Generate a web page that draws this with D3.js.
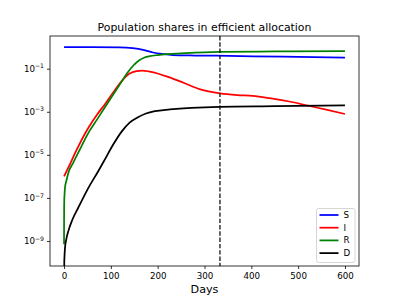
<!DOCTYPE html>
<html>
<head>
<meta charset="utf-8">
<script src="https://cdn.jsdelivr.net/npm/d3@7"></script>
<style>
  body { margin: 0; background: #fff; }
  svg { font-family: "DejaVu Sans", sans-serif; }
</style>
</head>
<body>
<svg id="chart" width="399" height="299"></svg>
<script>
// series: [day, population share]
var S = [[0, 1.0], [60, 1.0], [119, 0.99], [147, 0.90], [169, 0.75], [190, 0.565],
  [211, 0.48], [232, 0.43], [280, 0.41], [325, 0.40], [467, 0.36], [600, 0.33]];
var I = [[0, 1.0e-6], [10, 2.8e-6], [25, 1.41e-5], [52, 1.82e-4], [70, 7.1e-4], [87, 2.19e-3],
  [105, 7.9e-3], [123, 0.0269], [140, 0.060], [155, 0.0776], [167, 0.0813], [180, 0.0759],
  [200, 0.060], [222, 0.0417], [255, 0.0224], [291, 0.011], [333, 7.2e-3], [370, 6.0e-3],
  [403, 5.5e-3], [439, 4.3e-3], [481, 3.0e-3], [524, 1.86e-3], [560, 1.26e-3], [600, 7.9e-4]];
var R = [[0, 7.1e-10], [0.05, 5.0e-9], [0.2, 3.2e-8], [0.5, 8.0e-8], [1, 1.4e-7], [2, 2.95e-7],
  [5, 6.3e-7], [9, 1.41e-6], [20, 4.5e-6], [35, 2.0e-5], [52, 1.05e-4], [70, 4.2e-4],
  [87, 1.58e-3], [105, 6.3e-3], [123, 0.0251], [135, 0.063], [148, 0.141], [160, 0.24],
  [172, 0.33], [183, 0.38], [200, 0.43], [219, 0.475], [260, 0.53], [332, 0.60],
  [450, 0.63], [600, 0.66]];
var D = [[0, 0], [0.5, 1.0e-10], [1, 2.0e-10], [2, 4.7e-10], [5, 1.26e-9], [9, 2.8e-9],
  [18, 1.0e-8], [30, 3.4e-8], [52, 2.95e-7], [73, 1.74e-6], [87, 6.0e-6], [105, 3.0e-5],
  [123, 1.2e-4], [140, 3.16e-4], [158, 5.6e-4], [175, 8.3e-4], [194, 1.07e-3],
  [226, 1.29e-3], [332, 1.7e-3], [450, 1.82e-3], [600, 2.0e-3]];

var seriesNames = ["S", "I", "R", "D"];
var seriesData = [S, I, R, D];
var seriesColors = ["#0000ff", "#ff0000", "#008000", "#000000"];

var xDomain = [-30, 630];
var yDomain = [6.9e-11, 3.3];
var xTicks = [0, 100, 200, 300, 400, 500, 600];
var yTicks = [1e-9, 1e-7, 1e-5, 1e-3, 1e-1];
var yTickExp = ["\u22129", "\u22127", "\u22125", "\u22123", "\u22121"];
var cutoffDay = 333;

function main() {
  // plot box (window.top is reserved, so no bare "top")
  var x0 = 50, x1 = 359, y0 = 36, y1 = 266;

  var svg = d3.select("#chart");

  var x = d3.scaleLinear().domain(xDomain).range([x0, x1]);
  var y = d3.scaleLog().domain(yDomain).range([y1, y0]);

  svg.append("clipPath").attr("id", "plot-clip")
    .append("rect")
    .attr("x", x0).attr("y", y0)
    .attr("width", x1 - x0).attr("height", y1 - y0);

  var plot = svg.append("g").attr("clip-path", "url(#plot-clip)");

  // zero values get pushed below the axis so the line runs off the bottom
  var line = d3.line()
    .x(function (d) { return x(d[0]); })
    .y(function (d) { return y(Math.max(d[1], 1e-12)); })
    .curve(d3.curveMonotoneX);

  seriesData.forEach(function (data, i) {
    plot.append("path")
      .datum(data)
      .attr("fill", "none")
      .attr("stroke", seriesColors[i])
      .attr("stroke-width", 1.75)
      .attr("stroke-linejoin", "round")
      .attr("d", line);
  });

  // dashed vertical marker
  plot.append("line")
    .attr("x1", x(cutoffDay)).attr("x2", x(cutoffDay))
    .attr("y1", y0).attr("y2", y1)
    .attr("stroke", "#000")
    .attr("stroke-width", 1.2)
    .attr("stroke-dasharray", "4.4,1.9");

  // axes
  var xAxis = svg.append("g")
    .attr("transform", "translate(0," + y1 + ")")
    .call(d3.axisBottom(x).tickValues(xTicks).tickSize(3).tickPadding(3));

  var yAxis = svg.append("g")
    .attr("transform", "translate(" + x0 + ",0)")
    .call(d3.axisLeft(y).tickValues(yTicks).tickSize(3).tickPadding(3).tickFormat(""));

  [xAxis, yAxis].forEach(function (a) {
    a.select(".domain").remove();
    a.selectAll(".tick line").attr("stroke", "#000").attr("stroke-width", 0.8);
    a.selectAll("text").attr("font-family", "DejaVu Sans").attr("font-size", 8.7).attr("fill", "#000");
  });
  xAxis.selectAll(".tick text").attr("dy", "0.75em");

  // power-of-ten labels
  yAxis.selectAll(".tick").each(function (d, i) {
    var t = d3.select(this).select("text").attr("dy", "0.32em").text(null);
    t.append("tspan").text("10");
    t.append("tspan").attr("font-size", 6.1).attr("dy", "-0.6em").text(yTickExp[i]);
  });

  // frame
  svg.append("rect")
    .attr("x", x0).attr("y", y0)
    .attr("width", x1 - x0).attr("height", y1 - y0)
    .attr("fill", "none").attr("stroke", "#000").attr("stroke-width", 0.8);

  svg.append("text")
    .attr("x", (x0 + x1) / 2).attr("y", 30.5)
    .attr("text-anchor", "middle")
    .attr("font-size", 10.9)
    .text("Population shares in efficient allocation");

  svg.append("text")
    .attr("x", (x0 + x1) / 2).attr("y", 293)
    .attr("text-anchor", "middle")
    .attr("font-size", 11.2)
    .text("Days");

  // legend in the lower right
  var legend = svg.append("g").attr("transform", "translate(316.5,208.5)");
  legend.append("rect")
    .attr("width", 38.5).attr("height", 54)
    .attr("rx", 2)
    .attr("fill", "#fff").attr("fill-opacity", 0.8)
    .attr("stroke", "#ccc").attr("stroke-width", 0.8);

  seriesNames.forEach(function (name, i) {
    var row = legend.append("g").attr("transform", "translate(0," + (6.5 + i * 12.7) + ")");
    row.append("line")
      .attr("x1", 3).attr("x2", 22)
      .attr("stroke", seriesColors[i]).attr("stroke-width", 1.75);
    row.append("text")
      .attr("x", 27).attr("dy", "0.35em")
      .attr("font-size", 8.7)
      .text(name);
  });
}

main();
</script>
</body>
</html>
